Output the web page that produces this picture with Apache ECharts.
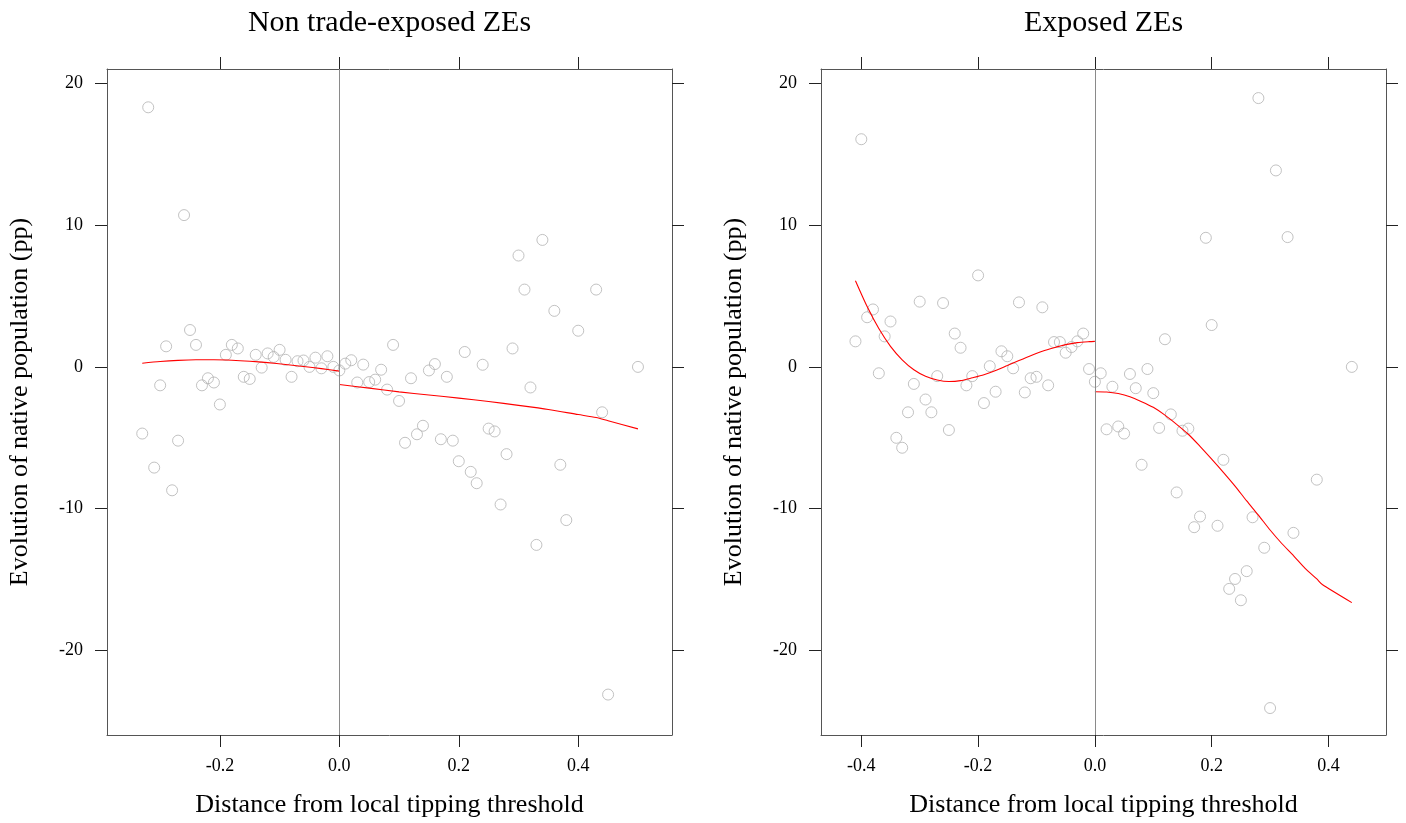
<!DOCTYPE html>
<html>
<head>
<meta charset="utf-8">
<title>Evolution of native population around the local tipping threshold</title>
<script src="https://cdn.jsdelivr.net/npm/echarts@6/dist/echarts.min.js"></script>
<style>
  html, body { margin: 0; padding: 0; background: #fff; }
  #chart { width: 1406px; height: 823px; }
</style>
</head>
<body>
<div id="chart"></div>
<script>
// Panel titles and axis titles
const panelTitles = ['Non trade-exposed ZEs', 'Exposed ZEs'];
const xAxisTitle = 'Distance from local tipping threshold';
const yAxisTitle = 'Evolution of native population (pp)';

// Tick positions
const xTicksNonExposed = [-0.2, 0.0, 0.2, 0.4];
const xTicksExposed = [-0.4, -0.2, 0.0, 0.2, 0.4];
const yTicks = [-20, -10, 0, 10, 20];

// Non trade-exposed zones: binned observations
const nonExposedX = [
  -0.33, -0.32, -0.31, -0.30, -0.29, -0.28, -0.27, -0.26, -0.25, -0.24,
  -0.23, -0.22, -0.21, -0.20, -0.19, -0.18, -0.17, -0.16, -0.15, -0.14,
  -0.13, -0.12, -0.11, -0.10, -0.09, -0.08, -0.07, -0.06, -0.05, -0.04,
  -0.03, -0.02, -0.01, 0.00,
  0.01, 0.02, 0.03, 0.04, 0.05, 0.06, 0.07, 0.08, 0.09, 0.10,
  0.11, 0.12, 0.13, 0.14, 0.15, 0.16, 0.17, 0.18, 0.19, 0.20,
  0.21, 0.22, 0.23, 0.24, 0.25, 0.26, 0.27, 0.28, 0.29, 0.30,
  0.31, 0.32, 0.33, 0.34, 0.36, 0.37, 0.38, 0.40, 0.43, 0.44,
  0.45, 0.50
];
const nonExposedY = [
  -4.7, 18.3, -7.1, -1.3, 1.45, -8.7, -5.2, 10.7, 2.6, 1.55,
  -1.3, -0.8, -1.1, -2.65, 0.85, 1.55, 1.3, -0.7, -0.85, 0.85,
  -0.05, 0.95, 0.7, 1.2, 0.5, -0.7, 0.4, 0.45, 0.0, 0.65,
  -0.1, 0.75, 0.0, -0.25,
  0.23, 0.47, -1.1, 0.16, -1.07, -0.9, -0.2, -1.6, 1.55, -2.4,
  -5.35, -0.8, -4.75, -4.15, -0.25, 0.2, -5.1, -0.7, -5.2, -6.65,
  1.05, -7.4, -8.2, 0.15, -4.35, -4.55, -9.7, -6.15, 1.3, 7.85,
  5.45, -1.45, -12.55, 8.95, 3.95, -6.9, -10.8, 2.55, 5.45, -3.2,
  -23.1, 0.0
];

// Non trade-exposed zones: fitted curve on each side of the threshold
const nonExposedFitBelowX = [-0.33, -0.30, -0.27, -0.24, -0.21, -0.18, -0.15, -0.12, -0.09, -0.06, -0.03, 0.0];
const nonExposedFitBelowY = [0.26, 0.38, 0.46, 0.5, 0.5, 0.47, 0.4, 0.3, 0.17, 0.03, -0.12, -0.3];
const nonExposedFitAboveX = [0.0, 0.05, 0.10, 0.15, 0.20, 0.25, 0.30, 0.35, 0.40, 0.43, 0.45, 0.50];
const nonExposedFitAboveY = [-1.24, -1.5, -1.76, -1.98, -2.2, -2.44, -2.71, -3.0, -3.36, -3.57, -3.8, -4.37];

// Exposed zones: binned observations
const exposedX = [
  -0.41, -0.40, -0.39, -0.38, -0.37, -0.36, -0.35, -0.34, -0.33, -0.32,
  -0.31, -0.30, -0.29, -0.28, -0.27, -0.26, -0.25, -0.24, -0.23, -0.22,
  -0.21, -0.20, -0.19, -0.18, -0.17, -0.16, -0.15, -0.14, -0.13, -0.12,
  -0.11, -0.10, -0.09, -0.08, -0.07, -0.06, -0.05, -0.04, -0.03, -0.02,
  -0.01, 0.00,
  0.01, 0.02, 0.03, 0.04, 0.05, 0.06, 0.07, 0.08, 0.09, 0.10,
  0.11, 0.12, 0.13, 0.14, 0.15, 0.16, 0.17, 0.18, 0.19, 0.20,
  0.21, 0.22, 0.23, 0.24, 0.25, 0.26, 0.27, 0.28, 0.29, 0.30,
  0.31, 0.33, 0.34, 0.38, 0.44
];
const exposedY = [
  1.8, 16.05, 3.5, 4.05, -0.45, 2.15, 3.2, -5.0, -5.7, -3.2,
  -1.2, 4.6, -2.3, -3.2, -0.65, 4.5, -4.45, 2.35, 1.35, -1.3,
  -0.65, 6.45, -2.55, 0.05, -1.75, 1.1, 0.75, -0.1, 4.55, -1.8,
  -0.8, -0.7, 4.2, -1.3, 1.75, 1.75, 1.0, 1.4, 1.8, 2.35,
  -0.15, -1.05,
  -0.45, -4.4, -1.4, -4.2, -4.7, -0.5, -1.5, -6.9, -0.15, -1.85,
  -4.3, 1.95, -3.35, -8.85, -4.5, -4.35, -11.3, -10.55, 9.1, 2.95,
  -11.2, -6.55, -15.65, -14.95, -16.45, -14.4, -10.6, 18.95, -12.75, -24.05,
  13.85, 9.15, -11.7, -7.95, 0.0
];

// Exposed zones: fitted curve on each side of the threshold
const exposedFitBelowX = [-0.41, -0.39, -0.37, -0.35, -0.33, -0.31, -0.29, -0.27, -0.25, -0.23, -0.21, -0.19, -0.17, -0.15, -0.13, -0.11, -0.09, -0.07, -0.05, -0.03, -0.01, 0.0];
const exposedFitBelowY = [6.07, 4.25, 2.7, 1.45, 0.5, -0.2, -0.66, -0.92, -1.03, -0.97, -0.77, -0.55, -0.25, 0.1, 0.45, 0.79, 1.1, 1.35, 1.57, 1.71, 1.78, 1.8];
const exposedFitAboveX = [0.0, 0.02, 0.04, 0.06, 0.08, 0.10, 0.12, 0.14, 0.16, 0.18, 0.20, 0.22, 0.24, 0.26, 0.28, 0.30, 0.32, 0.34, 0.36, 0.38, 0.39, 0.44];
const exposedFitAboveY = [-1.75, -1.77, -1.88, -2.1, -2.45, -2.85, -3.4, -4.05, -4.75, -5.6, -6.5, -7.43, -8.4, -9.45, -10.45, -11.5, -12.45, -13.3, -14.2, -14.95, -15.36, -16.62];

const zip = (xs, ys) => xs.map((x, i) => [x, ys[i]]);

const FONT = '"Liberation Serif", "Times New Roman", serif';
const BOX = '#555555';
const TICK = '#222222';
const POINT = '#b3b3b3';
const FIT = '#ff0000';
const Y_MIN = -25.95, Y_MAX = 21.0;

// Two panels, each placed by its top edge and height
const grids = [
  { left: 107, width: 565, top: 69, height: 671 },
  { left: 821, width: 565, top: 69, height: 671 }
];
const xRanges = [[-0.389, 0.557], [-0.469, 0.4985]];
const xTicks = [xTicksNonExposed, xTicksExposed];

function xAxisPair(g) {
  const [min, max] = xRanges[g];
  const common = {
    type: 'value', gridIndex: g, min, max,
    splitLine: { show: false },
    axisLine: { show: true, onZero: false, lineStyle: { color: BOX, width: 1 } },
    axisTick: { show: true, length: 12, customValues: xTicks[g], lineStyle: { color: TICK, width: 1 } }
  };
  return [
    Object.assign({}, common, {
      position: 'bottom',
      axisLabel: {
        show: true, customValues: xTicks[g], margin: 22,
        formatter: v => v.toFixed(1),
        fontFamily: FONT, fontSize: 18, color: '#000'
      },
      name: xAxisTitle, nameLocation: 'middle', nameGap: 57,
      nameTextStyle: { fontFamily: FONT, fontSize: 26, color: '#000' }
    }),
    Object.assign({}, common, {
      position: 'top',
      axisLabel: { show: false }
    })
  ];
}

function yAxisPair(g) {
  const common = {
    type: 'value', gridIndex: g, min: Y_MIN, max: Y_MAX,
    splitLine: { show: false },
    axisLine: { show: true, onZero: false, lineStyle: { color: BOX, width: 1 } },
    axisTick: { show: true, length: 12, customValues: yTicks, lineStyle: { color: TICK, width: 1 } }
  };
  return [
    Object.assign({}, common, {
      position: 'left',
      axisLabel: {
        show: true, customValues: yTicks, margin: 24,
        formatter: v => String(v),
        fontFamily: FONT, fontSize: 18, color: '#000'
      },
      name: yAxisTitle, nameLocation: 'middle', nameGap: 74, nameRotate: 90,
      nameTextStyle: { fontFamily: FONT, fontSize: 26, color: '#000' }
    }),
    Object.assign({}, common, {
      position: 'right',
      axisLabel: { show: false }
    })
  ];
}

function scatter(xAxisIndex, yAxisIndex, xs, ys) {
  return {
    type: 'scatter', xAxisIndex, yAxisIndex,
    data: zip(xs, ys),
    symbol: 'circle', symbolSize: 11,
    itemStyle: { color: 'rgba(255,255,255,0)', borderColor: POINT, borderWidth: 1 },
    silent: true, z: 3
  };
}

function fit(xAxisIndex, yAxisIndex, xs, ys, withThreshold) {
  const s = {
    type: 'line', xAxisIndex, yAxisIndex,
    data: zip(xs, ys),
    showSymbol: false, smooth: 0.25,
    lineStyle: { color: FIT, width: 1.1 },
    silent: true, z: 4
  };
  if (withThreshold) {
    // vertical reference line at the tipping threshold
    s.markLine = {
      silent: true, symbol: ['none', 'none'],
      label: { show: false },
      lineStyle: { color: '#8a8a8a', width: 1, type: 'solid' },
      data: [{ xAxis: 0 }]
    };
  }
  return s;
}

const chart = echarts.init(document.getElementById('chart'), null, { renderer: 'canvas' });

chart.setOption({
  animation: false,
  backgroundColor: '#ffffff',
  grid: grids,
  xAxis: [...xAxisPair(0), ...xAxisPair(1)],
  yAxis: [...yAxisPair(0), ...yAxisPair(1)],
  graphic: [
    {
      type: 'text', x: 389.5, y: 23,
      style: { text: panelTitles[0], font: '30px ' + FONT, fill: '#000', align: 'center', verticalAlign: 'middle' }
    },
    {
      type: 'text', x: 1103.5, y: 23,
      style: { text: panelTitles[1], font: '30px ' + FONT, fill: '#000', align: 'center', verticalAlign: 'middle' }
    }
  ],
  series: [
    scatter(0, 0, nonExposedX, nonExposedY),
    fit(0, 0, nonExposedFitBelowX, nonExposedFitBelowY, true),
    fit(0, 0, nonExposedFitAboveX, nonExposedFitAboveY, false),
    scatter(2, 2, exposedX, exposedY),
    fit(2, 2, exposedFitBelowX, exposedFitBelowY, true),
    fit(2, 2, exposedFitAboveX, exposedFitAboveY, false)
  ]
});
</script>
</body>
</html>
